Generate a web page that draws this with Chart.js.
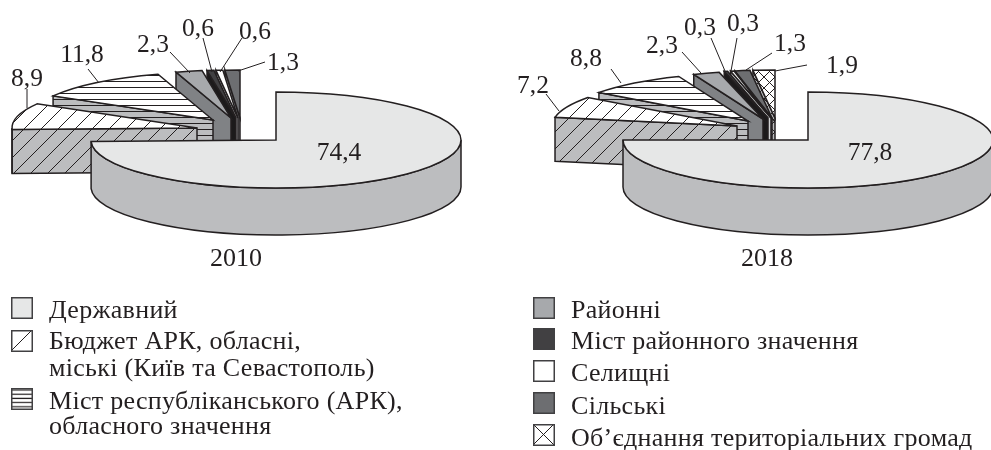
<!DOCTYPE html>
<html lang="uk"><head><meta charset="utf-8">
<script src="https://cdn.jsdelivr.net/npm/chart.js@4/dist/chart.umd.js"></script>
<style>
html,body{margin:0;padding:0;background:#fff;width:991px;height:450px;overflow:hidden}
canvas{position:absolute;top:0}
#a{left:0}#b{left:500px}
svg{position:absolute;left:0;top:0}
</style></head><body>
<canvas id="a" width="500" height="280"></canvas>
<canvas id="b" width="491" height="280"></canvas>
<svg id="lg" width="991" height="450" xmlns="http://www.w3.org/2000/svg"></svg>
<script>
// ---- data ----
const categories2010 = ["Державний","Бюджет АРК, обласні, міські (Київ та Севастополь)","Міст республіканського (АРК), обласного значення","Районні","Міст районного значення","Селищні","Сільські"];
const values2010 = [74.4, 8.9, 11.8, 2.3, 0.6, 0.6, 1.3];
const categories2018 = [...categories2010, "Об’єднання територіальних громад"];
const values2018 = [77.8, 7.2, 8.8, 2.3, 0.3, 0.3, 1.3, 1.9];
const years = ["2010","2018"];

// ---- styling / layout ----
const INK = "#231f20";
const topColors  = ["#e6e7e7","#ffffff","#ffffff","#a7a9ac","#414042","#ffffff","#6d6e71","#ffffff"];
const sideColors = ["#bcbdbf","#bcbdbf","#bcbdbf","#808285","#1c1a1b","#d1d3d4","#808285","#bcbdbf"];
const hatches    = [null,"diag","horiz",null,null,null,null,"cross"];
const FONT = '"Liberation Serif", serif';
const ELLIPSE_K = 48/185, RADIUS = 185;

const layoutA = {
  padLeft: 52, leadDepth: 47, depth: 44, leadMaxEnd: Math.PI,
  shift: [[0,0],[-79,-12],[-63,-20],[-45,-22],[-40,-22],[-38,-22],[-36,-22]],
  text: [[339,153],[27,79],[82,55],[153,45],[198,29],[255,32],[283,63]],
  lead: [null,[27,89,27,108],[88,69,99,83],[170,52,190,73],[203,38,212,72],[242,38,220,72],[265,62,238,71]],
  year: [236,259]
};
const layoutB = {
  padLeft: 125, leadDepth: 47, depth: 44, leadMaxEnd: Math.PI,
  shift: [[0,0],[-71,-14],[-60,-19],[-45,-21],[-40,-22],[-37,-22],[-36,-22],[-33,-22]],
  text: [[370,153],[33,86],[86,59],[162,46],[200,28],[243,24],[290,44],[342,66]],
  lead: [null,[46,94,59,111],[111,69,121,83],[182,52,201,73],[211,38,225,71],[237,38,231,71],[272,53,246,70],[307,65,275,71]],
  year: [267,259]
};

function makePattern(ctx, kind){
  const t = document.createElement("canvas"), s = kind==="diag"?17:kind==="cross"?11:6;
  t.width = t.height = s;
  const c = t.getContext("2d"); c.strokeStyle = INK; c.lineWidth = 1;
  if(kind==="horiz"){ c.beginPath(); c.moveTo(0,3.5); c.lineTo(s,3.5); c.stroke(); }
  else{
    const l=(x0,y0,x1,y1)=>{c.beginPath();c.moveTo(x0,y0);c.lineTo(x1,y1);c.stroke();};
    for(const o of [-s,0,s]) l(o-1,s+1,o+s+1,-1);
    if(kind==="cross") for(const o of [-s,0,s]) l(o-1,-1,o+s+1,s+1);
  }
  return ctx.createPattern(t,"repeat");
}
function paint(ctx, path, color, hatch){
  path(); ctx.fillStyle=color; ctx.fill();
  if(hatch){ path(); ctx.fillStyle=makePattern(ctx,hatch); ctx.fill(); }
  path(); ctx.strokeStyle=INK; ctx.lineWidth=1.5; ctx.lineJoin="miter"; ctx.stroke();
}
const pseudo3d = {
  id:"pseudo3d",
  beforeDatasetDraw(){ return false; },
  afterDatasetsDraw(chart){
    const L = chart.options.plugins.pseudo3d.layout, ctx = chart.ctx;
    const arcs = chart.getDatasetMeta(0).data, vals = chart.data.datasets[0].data;
    ctx.save();
    for(let i=arcs.length-1;i>=0;i--){
      const e = arcs[i], r = e.outerRadius, ry = r*ELLIPSE_K;
      const cx = e.x+L.shift[i][0], cy = e.y+L.shift[i][1];
      const h = i===0?L.leadDepth:L.depth;
      const a0 = e.startAngle, a1 = i===0?Math.min(e.endAngle,L.leadMaxEnd):e.endAngle;
      const sx = cx+r*Math.cos(a0), sy = cy+ry*Math.sin(a0);
      if(i>0) paint(ctx,()=>{ctx.beginPath();ctx.moveTo(cx,cy);ctx.lineTo(sx,sy);ctx.lineTo(sx,sy+h);ctx.lineTo(cx,cy+h);ctx.closePath();},sideColors[i],hatches[i]);
      const r0=Math.max(a0,0), r1=Math.min(a1,Math.PI);
      if(r1>r0) paint(ctx,()=>{ctx.beginPath();ctx.ellipse(cx,cy,r,ry,0,r0,r1);ctx.ellipse(cx,cy+h,r,ry,0,r1,r0,true);ctx.closePath();},sideColors[i],hatches[i]);
      paint(ctx,()=>{ctx.beginPath();ctx.moveTo(cx,cy);ctx.ellipse(cx,cy,r,ry,0,a0,a1);ctx.closePath();},topColors[i],hatches[i]);
    }
    ctx.strokeStyle=INK; ctx.lineWidth=1; ctx.fillStyle=INK;
    ctx.font="25.5px "+FONT; ctx.textAlign="center"; ctx.textBaseline="middle";
    vals.forEach((v,i)=>{
      const g=L.lead[i];
      if(g){ctx.beginPath();ctx.moveTo(g[0],g[1]);ctx.lineTo(g[2],g[3]);ctx.stroke();}
      ctx.fillText(v.toFixed(1).replace(".",","),L.text[i][0],L.text[i][1]);
    });
    ctx.font="26px "+FONT;
    ctx.fillText(chart.options.plugins.pseudo3d.year,L.year[0],L.year[1]);
    ctx.restore();
  }
};
function build(id,labels,data,layout,year){
  return new Chart(document.getElementById(id),{
    type:"pie",
    data:{labels,datasets:[{data,backgroundColor:topColors.slice(0,data.length),borderWidth:0,radius:RADIUS}]},
    options:{
      responsive:false,animation:false,
      layout:{padding:{left:layout.padLeft}},
      plugins:{legend:{display:false},tooltip:{enabled:false},pseudo3d:{layout,year}}
    },
    plugins:[pseudo3d]
  });
}
build("a",categories2010,values2010,layoutA,years[0]);
build("b",categories2018,values2018,layoutB,years[1]);

// ---- legend ----
const legendLines = [
  ["Державний"],
  ["Бюджет АРК, обласні,","міські (Київ та Севастополь)"],
  ["Міст республіканського (АРК),","обласного значення"],
  ["Районні"],["Міст районного значення"],["Селищні"],["Сільські"],
  ["Об’єднання територіальних громад"]
];
const legendFill = ["#e6e7e7","url(#pd)","url(#ph)","#a7a9ac","#414042","#ffffff","#6d6e71","url(#pc)"];
const legendBox  = [[11,297],[11,330],[11,388],[533,297],[533,328],[533,360],[533,392],[533,424]];
const legendBase = [[318],[349,376],[409,434],[318],[349],[381],[414],[446]];
const legendX    = [49,49,49,571,571,571,571,571];
let svg = `<defs>
<pattern id="pd" patternUnits="userSpaceOnUse" width="21" height="21" x="11" y="330"><path d="M-2 23L23 -2M-17 17L4 -4M17 25L25 17" stroke="${INK}" stroke-width="1" fill="none"/></pattern>
<pattern id="ph" patternUnits="userSpaceOnUse" width="22" height="4.2" x="11" y="388"><path d="M0 2H22" stroke="${INK}" stroke-width="1.2"/></pattern>
<pattern id="pc" patternUnits="userSpaceOnUse" width="21" height="21" x="533" y="424"><path d="M0 0L21 21M21 0L0 21" stroke="${INK}" stroke-width="1" fill="none"/></pattern>
</defs>`;
legendLines.forEach((lines,i)=>{
  svg += `<rect x="${legendBox[i][0]+.75}" y="${legendBox[i][1]+.75}" width="20.5" height="20.5" fill="${legendFill[i]}" stroke="#414042" stroke-width="1.5"/>`;
  lines.forEach((t,j)=>{ svg += `<text x="${legendX[i]}" y="${legendBase[i][j]}" font-family='Liberation Serif' font-size="26" letter-spacing="0.3" fill="${INK}">${t}</text>`; });
});
document.getElementById("lg").innerHTML = svg;
</script>
</body></html>
